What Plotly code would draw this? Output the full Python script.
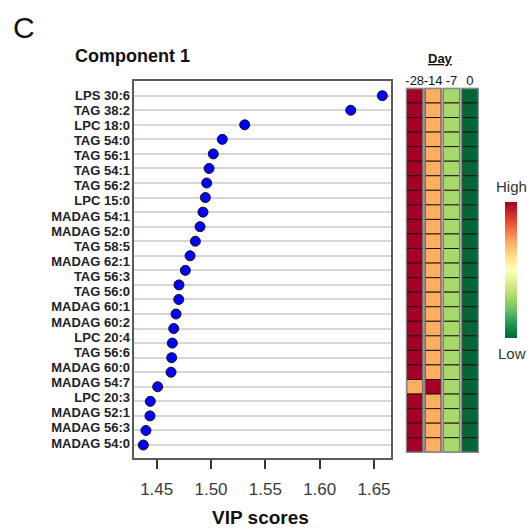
import plotly.graph_objects as go

# VIP scores of the top-ranked features (component 1), top to bottom
vip_scores = [1.6577, 1.6286, 1.5310, 1.5104, 1.5021, 1.4982, 1.4960, 1.4948,
              1.4926, 1.4899, 1.4856, 1.4807, 1.4764, 1.4705, 1.4703, 1.4678,
              1.4657, 1.4644, 1.4638, 1.4632, 1.4509, 1.4441, 1.4438, 1.4401,
              1.4377]

feature_labels = ["LPS 30:6", "TAG 38:2", "LPC 18:0", "TAG 54:0", "TAG 56:1",
                  "TAG 54:1", "TAG 56:2", "LPC 15:0", "MADAG 54:1", "MADAG 52:0",
                  "TAG 58:5", "MADAG 62:1", "TAG 56:3", "TAG 56:0", "MADAG 60:1",
                  "MADAG 60:2", "LPC 20:4", "TAG 56:6", "MADAG 60:0", "MADAG 54:7",
                  "LPC 20:3", "MADAG 52:1", "MADAG 56:3", "MADAG 54:0"]

days = ["-28", "-14", "-7", "0"]

# Relative abundance per day (1 = high, 0 = low), one list per day column
level_d28 = [1.0, 1.0, 1.0, 1.0, 1.0, 1.0, 1.0, 1.0, 1.0, 1.0, 1.0, 1.0, 1.0,
             1.0, 1.0, 1.0, 1.0, 1.0, 1.0, 1.0, 0.7, 1.0, 1.0, 1.0, 1.0]
level_d14 = [0.7, 0.7, 0.7, 0.7, 0.7, 0.7, 0.7, 0.7, 0.7, 0.7, 0.7, 0.7, 0.7,
             0.7, 0.7, 0.7, 0.7, 0.7, 0.7, 0.7, 1.0, 0.7, 0.7, 0.7, 0.7]
level_d7 = [0.3, 0.3, 0.3, 0.3, 0.3, 0.3, 0.3, 0.3, 0.3, 0.3, 0.3, 0.3, 0.3,
            0.3, 0.3, 0.3, 0.3, 0.3, 0.3, 0.3, 0.3, 0.3, 0.3, 0.3, 0.3]
level_d0 = [0.0, 0.0, 0.0, 0.0, 0.0, 0.0, 0.0, 0.0, 0.0, 0.0, 0.0, 0.0, 0.0,
            0.0, 0.0, 0.0, 0.0, 0.0, 0.0, 0.0, 0.0, 0.0, 0.0, 0.0, 0.0]
day_levels = [level_d28, level_d14, level_d7, level_d0]

x_ticks = [1.45, 1.50, 1.55, 1.60, 1.65]

FONT = "Liberation Sans, Arial, sans-serif"
W = H = 531

rdylgn = [[0.0, "#006837"], [0.1, "#1a9850"], [0.2, "#66bd63"], [0.3, "#a6d96a"],
          [0.4, "#d9ef8b"], [0.5, "#ffffbf"], [0.6, "#fee08b"], [0.7, "#fdae61"],
          [0.8, "#f46d43"], [0.9, "#d73027"], [1.0, "#a50026"]]

rows = list(range(len(vip_scores)))
n_rows = len(rows)


def px_x(p):
    return p / W


def px_y(p):
    return 1 - p / H


fig = go.Figure()

# VIP dot plot
fig.add_trace(go.Scatter(
    x=vip_scores, y=rows, mode="markers",
    marker=dict(size=10, color="#0000ff", line=dict(color="#111111", width=1)),
    xaxis="x", yaxis="y", showlegend=False, hoverinfo="x",
))

# carrier trace for the feature-name axis
fig.add_trace(go.Scatter(
    x=[None] * len(feature_labels), y=feature_labels, mode="markers",
    xaxis="x", yaxis="y2", showlegend=False, hoverinfo="skip",
))

# heat map cells, one column of bars per day
cell_w = 0.87
for ci, levels in enumerate(day_levels):
    fig.add_trace(go.Bar(
        orientation="h", y=rows, x=[cell_w] * n_rows, base=[ci - cell_w / 2] * n_rows,
        width=1.0,
        marker=dict(color=levels, colorscale=rdylgn, cmin=0, cmax=1,
                    line=dict(color="rgba(35,15,15,0.95)", width=1),
                    showscale=(ci == 0),
                    colorbar=dict(x=px_x(505), xanchor="left", y=px_y(270), yanchor="middle",
                                  len=136 / H, lenmode="fraction", thickness=12,
                                  xpad=0, ypad=0, outlinewidth=0, ticks="",
                                  showticklabels=False)),
        xaxis="x2", yaxis="y", showlegend=False, hoverinfo="skip",
    ))

# grey outline around each day column
fig.add_trace(go.Bar(
    orientation="v", x=list(range(len(days))), y=[n_rows] * len(days),
    base=[-0.5] * len(days), width=cell_w + 0.04,
    marker=dict(color="rgba(0,0,0,0)", line=dict(color="#8a8a8a", width=1.5)),
    xaxis="x2", yaxis="y", showlegend=False, hoverinfo="skip",
))

row_px = (445 - 95.7) / (n_rows - 1)
lab_px = (443 - 95) / (len(feature_labels) - 1)

fig.update_layout(
    width=W, height=H, autosize=False,
    margin=dict(l=0, r=0, t=0, b=0),
    paper_bgcolor="white", plot_bgcolor="rgba(0,0,0,0)",
    barmode="overlay",
    font=dict(family=FONT, color="#222222"),
    xaxis=dict(
        domain=[px_x(134), px_x(391)],
        range=[1.45 - (156.7 - 134) / 1086.5, 1.65 + (391 - 374) / 1086.5],
        tickvals=x_ticks, ticktext=[f"{v:.2f}" for v in x_ticks],
        ticks="outside", ticklen=9, tickwidth=1.5, tickcolor="#333333",
        ticklabelstandoff=6,
        tickfont=dict(size=17, color="#3a3a3a"),
        showline=True, mirror=True, linecolor="#5a5a5a", linewidth=2,
        showgrid=False, zeroline=False, anchor="y",
    ),
    yaxis=dict(
        domain=[px_y(458), px_y(81)],
        range=[n_rows - 1 + (458 - 445) / row_px, -(95.7 - 81) / row_px],
        tickvals=rows, showticklabels=False, ticks="",
        showgrid=True, gridcolor="#d6d6d6", gridwidth=1.5,
        showline=True, mirror=True, linecolor="#5a5a5a", linewidth=2,
        zeroline=False, anchor="x",
    ),
    yaxis2=dict(
        overlaying="y", anchor="x", side="left",
        type="category", categoryorder="array", categoryarray=feature_labels,
        tickmode="array", tickvals=feature_labels, ticktext=feature_labels,
        range=[len(feature_labels) - 1 + (458 - 443) / lab_px, -(95 - 81) / lab_px],
        ticks="", ticklabelstandoff=3,
        showgrid=False, showline=False, zeroline=False,
        tickfont=dict(size=13, color="#222222", weight="bold"),
    ),
    xaxis2=dict(
        domain=[px_x(405.5), px_x(479.1)], range=[-0.5, 3.5],
        anchor="free", position=px_y(88), side="top",
        tickvals=list(range(len(days))), ticktext=days, tickangle=0,
        ticks="", showgrid=False, showline=False, zeroline=False,
        tickfont=dict(size=13, color="#111111"),
    ),
    annotations=[
        dict(text="C", x=px_x(11), y=px_y(28), xref="paper", yref="paper",
             xanchor="left", yanchor="middle", showarrow=False,
             font=dict(size=30, color="#111111")),
        dict(text="<b>Component 1</b>", x=px_x(73), y=px_y(56), xref="paper", yref="paper",
             xanchor="left", yanchor="middle", showarrow=False,
             font=dict(size=18, color="#111111")),
        dict(text="<b>VIP scores</b>", x=px_x(260), y=px_y(517), xref="paper", yref="paper",
             xanchor="center", yanchor="middle", showarrow=False,
             font=dict(size=19, color="#111111")),
        dict(text="<b><u>Day</u></b>", x=px_x(440), y=px_y(58), xref="paper", yref="paper",
             xanchor="center", yanchor="middle", showarrow=False,
             font=dict(size=13, color="#111111")),
        dict(text="High", x=px_x(511.5), y=px_y(186), xref="paper", yref="paper",
             xanchor="center", yanchor="middle", showarrow=False,
             font=dict(size=15, color="#333333")),
        dict(text="Low", x=px_x(511.5), y=px_y(353), xref="paper", yref="paper",
             xanchor="center", yanchor="middle", showarrow=False,
             font=dict(size=15, color="#333333")),
    ],
)

fig.write_html("out.html")
